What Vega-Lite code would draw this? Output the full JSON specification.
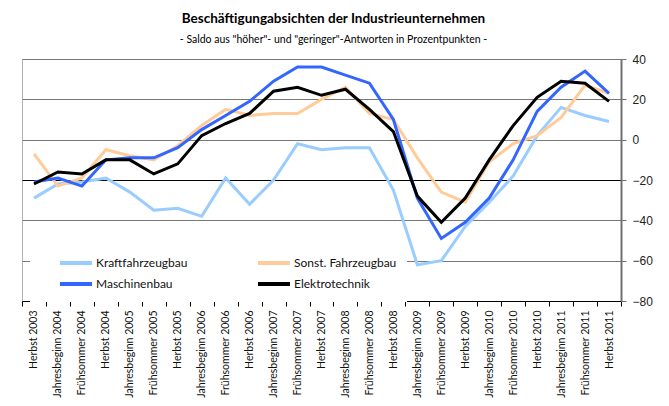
{
  "$schema": "https://vega.github.io/schema/vega-lite/v6.json",
  "width": 599,
  "height": 242,
  "autosize": "none",
  "padding": {"left": 22, "top": 59, "right": 48, "bottom": 105},
  "title": {
    "text": "Beschäftigungabsichten der Industrieunternehmen",
    "subtitle": "- Saldo aus \"höher\"- und \"geringer\"-Antworten in Prozentpunkten -",
    "anchor": "middle",
    "dx": 12,
    "offset": 8,
    "font": "Lato",
    "fontSize": 13.5,
    "fontWeight": "bold",
    "color": "#000",
    "subtitleFont": "Lato",
    "subtitleFontSize": 10.5,
    "subtitleColor": "#000",
    "subtitlePadding": 9
  },
  "config": {
    "view": {"stroke": "#b0b0b0", "strokeWidth": 1},
    "font": "Lato"
  },
  "data": {
    "values": [
      {"t": "Herbst 2003", "s": "Kraftfahrzeugbau", "v": -29},
      {"t": "Jahresbeginn 2004", "s": "Kraftfahrzeugbau", "v": -22},
      {"t": "Frühsommer 2004", "s": "Kraftfahrzeugbau", "v": -21},
      {"t": "Herbst 2004", "s": "Kraftfahrzeugbau", "v": -19},
      {"t": "Jahresbeginn 2005", "s": "Kraftfahrzeugbau", "v": -26},
      {"t": "Frühsommer 2005", "s": "Kraftfahrzeugbau", "v": -35},
      {"t": "Herbst 2005", "s": "Kraftfahrzeugbau", "v": -34},
      {"t": "Jahresbeginn 2006", "s": "Kraftfahrzeugbau", "v": -38},
      {"t": "Frühsommer 2006", "s": "Kraftfahrzeugbau", "v": -19},
      {"t": "Herbst 2006", "s": "Kraftfahrzeugbau", "v": -32},
      {"t": "Jahresbeginn 2007", "s": "Kraftfahrzeugbau", "v": -20},
      {"t": "Frühsommer 2007", "s": "Kraftfahrzeugbau", "v": -2},
      {"t": "Herbst 2007", "s": "Kraftfahrzeugbau", "v": -5},
      {"t": "Jahresbeginn 2008", "s": "Kraftfahrzeugbau", "v": -4},
      {"t": "Frühsommer 2008", "s": "Kraftfahrzeugbau", "v": -4},
      {"t": "Herbst 2008", "s": "Kraftfahrzeugbau", "v": -25},
      {"t": "Jahresbeginn 2009", "s": "Kraftfahrzeugbau", "v": -62},
      {"t": "Frühsommer 2009", "s": "Kraftfahrzeugbau", "v": -60},
      {"t": "Herbst 2009", "s": "Kraftfahrzeugbau", "v": -43},
      {"t": "Jahresbeginn 2010", "s": "Kraftfahrzeugbau", "v": -31},
      {"t": "Frühsommer 2010", "s": "Kraftfahrzeugbau", "v": -18},
      {"t": "Herbst 2010", "s": "Kraftfahrzeugbau", "v": 2},
      {"t": "Jahresbeginn 2011", "s": "Kraftfahrzeugbau", "v": 16},
      {"t": "Frühsommer 2011", "s": "Kraftfahrzeugbau", "v": 12},
      {"t": "Herbst 2011", "s": "Kraftfahrzeugbau", "v": 9},
      {"t": "Herbst 2003", "s": "Sonst. Fahrzeugbau", "v": -7},
      {"t": "Jahresbeginn 2004", "s": "Sonst. Fahrzeugbau", "v": -23},
      {"t": "Frühsommer 2004", "s": "Sonst. Fahrzeugbau", "v": -19},
      {"t": "Herbst 2004", "s": "Sonst. Fahrzeugbau", "v": -5},
      {"t": "Jahresbeginn 2005", "s": "Sonst. Fahrzeugbau", "v": -8},
      {"t": "Frühsommer 2005", "s": "Sonst. Fahrzeugbau", "v": -10},
      {"t": "Herbst 2005", "s": "Sonst. Fahrzeugbau", "v": -3},
      {"t": "Jahresbeginn 2006", "s": "Sonst. Fahrzeugbau", "v": 7},
      {"t": "Frühsommer 2006", "s": "Sonst. Fahrzeugbau", "v": 15},
      {"t": "Herbst 2006", "s": "Sonst. Fahrzeugbau", "v": 12},
      {"t": "Jahresbeginn 2007", "s": "Sonst. Fahrzeugbau", "v": 13},
      {"t": "Frühsommer 2007", "s": "Sonst. Fahrzeugbau", "v": 13},
      {"t": "Herbst 2007", "s": "Sonst. Fahrzeugbau", "v": 20},
      {"t": "Jahresbeginn 2008", "s": "Sonst. Fahrzeugbau", "v": 26},
      {"t": "Frühsommer 2008", "s": "Sonst. Fahrzeugbau", "v": 13},
      {"t": "Herbst 2008", "s": "Sonst. Fahrzeugbau", "v": 10},
      {"t": "Jahresbeginn 2009", "s": "Sonst. Fahrzeugbau", "v": -9},
      {"t": "Frühsommer 2009", "s": "Sonst. Fahrzeugbau", "v": -26},
      {"t": "Herbst 2009", "s": "Sonst. Fahrzeugbau", "v": -31},
      {"t": "Jahresbeginn 2010", "s": "Sonst. Fahrzeugbau", "v": -11},
      {"t": "Frühsommer 2010", "s": "Sonst. Fahrzeugbau", "v": -2},
      {"t": "Herbst 2010", "s": "Sonst. Fahrzeugbau", "v": 2},
      {"t": "Jahresbeginn 2011", "s": "Sonst. Fahrzeugbau", "v": 11},
      {"t": "Frühsommer 2011", "s": "Sonst. Fahrzeugbau", "v": 27},
      {"t": "Herbst 2011", "s": "Sonst. Fahrzeugbau", "v": 23},
      {"t": "Herbst 2003", "s": "Maschinenbau", "v": -21},
      {"t": "Jahresbeginn 2004", "s": "Maschinenbau", "v": -19},
      {"t": "Frühsommer 2004", "s": "Maschinenbau", "v": -23},
      {"t": "Herbst 2004", "s": "Maschinenbau", "v": -10},
      {"t": "Jahresbeginn 2005", "s": "Maschinenbau", "v": -9},
      {"t": "Frühsommer 2005", "s": "Maschinenbau", "v": -9},
      {"t": "Herbst 2005", "s": "Maschinenbau", "v": -4},
      {"t": "Jahresbeginn 2006", "s": "Maschinenbau", "v": 5},
      {"t": "Frühsommer 2006", "s": "Maschinenbau", "v": 12},
      {"t": "Herbst 2006", "s": "Maschinenbau", "v": 19},
      {"t": "Jahresbeginn 2007", "s": "Maschinenbau", "v": 29},
      {"t": "Frühsommer 2007", "s": "Maschinenbau", "v": 36},
      {"t": "Herbst 2007", "s": "Maschinenbau", "v": 36},
      {"t": "Jahresbeginn 2008", "s": "Maschinenbau", "v": 32},
      {"t": "Frühsommer 2008", "s": "Maschinenbau", "v": 28},
      {"t": "Herbst 2008", "s": "Maschinenbau", "v": 10},
      {"t": "Jahresbeginn 2009", "s": "Maschinenbau", "v": -29},
      {"t": "Frühsommer 2009", "s": "Maschinenbau", "v": -49},
      {"t": "Herbst 2009", "s": "Maschinenbau", "v": -41},
      {"t": "Jahresbeginn 2010", "s": "Maschinenbau", "v": -29},
      {"t": "Frühsommer 2010", "s": "Maschinenbau", "v": -10},
      {"t": "Herbst 2010", "s": "Maschinenbau", "v": 14},
      {"t": "Jahresbeginn 2011", "s": "Maschinenbau", "v": 26},
      {"t": "Frühsommer 2011", "s": "Maschinenbau", "v": 34},
      {"t": "Herbst 2011", "s": "Maschinenbau", "v": 23},
      {"t": "Herbst 2003", "s": "Elektrotechnik", "v": -22},
      {"t": "Jahresbeginn 2004", "s": "Elektrotechnik", "v": -16},
      {"t": "Frühsommer 2004", "s": "Elektrotechnik", "v": -17},
      {"t": "Herbst 2004", "s": "Elektrotechnik", "v": -10},
      {"t": "Jahresbeginn 2005", "s": "Elektrotechnik", "v": -10},
      {"t": "Frühsommer 2005", "s": "Elektrotechnik", "v": -17},
      {"t": "Herbst 2005", "s": "Elektrotechnik", "v": -12},
      {"t": "Jahresbeginn 2006", "s": "Elektrotechnik", "v": 2},
      {"t": "Frühsommer 2006", "s": "Elektrotechnik", "v": 8},
      {"t": "Herbst 2006", "s": "Elektrotechnik", "v": 13},
      {"t": "Jahresbeginn 2007", "s": "Elektrotechnik", "v": 24},
      {"t": "Frühsommer 2007", "s": "Elektrotechnik", "v": 26},
      {"t": "Herbst 2007", "s": "Elektrotechnik", "v": 22},
      {"t": "Jahresbeginn 2008", "s": "Elektrotechnik", "v": 25},
      {"t": "Frühsommer 2008", "s": "Elektrotechnik", "v": 15},
      {"t": "Herbst 2008", "s": "Elektrotechnik", "v": 4},
      {"t": "Jahresbeginn 2009", "s": "Elektrotechnik", "v": -28},
      {"t": "Frühsommer 2009", "s": "Elektrotechnik", "v": -41},
      {"t": "Herbst 2009", "s": "Elektrotechnik", "v": -29},
      {"t": "Jahresbeginn 2010", "s": "Elektrotechnik", "v": -10},
      {"t": "Frühsommer 2010", "s": "Elektrotechnik", "v": 7},
      {"t": "Herbst 2010", "s": "Elektrotechnik", "v": 21},
      {"t": "Jahresbeginn 2011", "s": "Elektrotechnik", "v": 29},
      {"t": "Frühsommer 2011", "s": "Elektrotechnik", "v": 28},
      {"t": "Herbst 2011", "s": "Elektrotechnik", "v": 19}
    ]
  },
  "mark": {"type": "line", "strokeWidth": 3, "strokeJoin": "miter", "strokeCap": "butt"},
  "encoding": {
    "x": {
      "field": "t",
      "type": "ordinal",
      "sort": null,
      "bandPosition": 0.5,
      "scale": {"type": "band", "paddingInner": 0, "paddingOuter": 0},
      "axis": {
        "title": null,
        "tickBand": "extent",
        "labelAngle": -90,
        "labelFont": "Lato",
        "labelFontSize": 10.5,
        "labelColor": "#111",
        "labelPadding": 4,
        "labelLimit": 150,
        "labelOverlap": false,
        "domainColor": "#000",
        "domainWidth": 1.2,
        "tickColor": "#000",
        "tickSize": 5,
        "grid": false
      }
    },
    "y": {
      "field": "v",
      "type": "quantitative",
      "scale": {"domain": [-80, 40], "nice": false, "zero": false},
      "axis": {
        "orient": "right",
        "title": null,
        "values": [-80, -60, -40, -20, 0, 20, 40],
        "labelFont": "Liberation Sans",
        "labelFontSize": 12,
        "labelColor": "#222",
        "labelPadding": 6,
        "domainColor": "#707070",
        "domainWidth": 2,
        "tickColor": "#707070",
        "tickSize": 5,
        "grid": true,
        "gridColor": {"condition": {"test": "datum.value === -20", "value": "#000"}, "value": "#777"},
        "gridWidth": 1
      }
    },
    "color": {
      "field": "s",
      "type": "nominal",
      "scale": {
        "domain": ["Kraftfahrzeugbau", "Sonst. Fahrzeugbau", "Maschinenbau", "Elektrotechnik"],
        "range": ["#99CCFF", "#FFCC99", "#3366FF", "#000000"]
      },
      "legend": {
        "title": null,
        "orient": "none",
        "legendX": 8,
        "legendY": 187,
        "direction": "horizontal",
        "columns": 2,
        "columnPadding": 50,
        "rowPadding": 5,
        "padding": 10,
        "fillColor": "#ffffff",
        "symbolType": "M-3.2,0H3.2",
        "symbolSize": 100,
        "symbolStrokeWidth": 4,
        "symbolOffset": 29,
        "labelFontSize": 12,
        "labelColor": "#111",
        "labelOffset": 13,
        "labelFont": "Lato"
      }
    }
  }
}
